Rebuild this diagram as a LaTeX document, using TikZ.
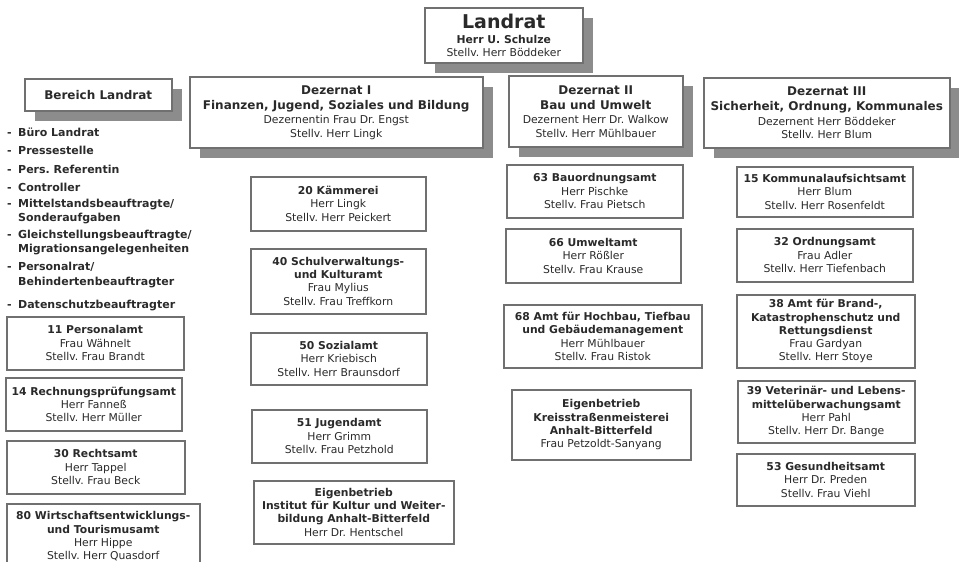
\documentclass[tikz,border=0pt]{standalone}
\usepackage{fontspec}
\setmainfont{DejaVu Sans}
\frenchspacing
\usetikzlibrary{shadows,positioning}
\definecolor{rahmen}{HTML}{707070}
\definecolor{schatten}{HTML}{8C8C8C}
\definecolor{schrift}{HTML}{2A2A2A}
\newcommand{\titel}{\fontsize{12}{14.5}\selectfont\bfseries}

\begin{document}
\begin{tikzpicture}[x=1pt,y=-1pt,
	amt/.style={draw=rahmen,line width=1.5pt,fill=white,anchor=north west,align=center,
		inner sep=0pt,text=schrift,font=\fontsize{10.8}{13.3}\selectfont},
	dez/.style={amt,font=\fontsize{10.8}{13.5}\selectfont,
		drop shadow={shadow xshift=10pt,shadow yshift=-10pt,fill=schatten,opacity=1}},
	item/.style={anchor=north west,align=left,inner sep=0pt,text=schrift,
		font=\fontsize{11}{14}\selectfont\bfseries}]
	
	\useasboundingbox (0,0) rectangle (959,562);
	
	\node[dez,minimum width=158pt,minimum height=55pt] (landrat) at (424,7)
	{{\fontsize{19}{22}\selectfont\bfseries Landrat}\\[2pt]\textbf{Herr U. Schulze}\\[-1pt]Stellv. Herr Böddeker};
	\node[dez,minimum width=147pt,minimum height=32pt] (bereich) at (24,78) {\titel Bereich Landrat};
	\node[dez,minimum width=293pt,minimum height=71pt] (dez1) at (189,76)
	{{\titel Dezernat I}\\[1.5pt]{\titel Finanzen, Jugend, Soziales und Bildung}\\[1pt]Dezernentin Frau Dr. Engst\\Stellv. Herr Lingk};
	\node[dez,minimum width=174pt,minimum height=71pt] (dez2) at (508,75)
	{{\titel Dezernat II}\\[1.5pt]{\titel Bau und Umwelt}\\[1pt]Dezernent Herr Dr. Walkow\\Stellv. Herr Mühlbauer};
	\node[dez,minimum width=246pt,minimum height=70pt] (dez3) at (703,77)
	{{\titel Dezernat III}\\[1.5pt]{\titel Sicherheit, Ordnung, Kommunales}\\[1pt]Dezernent Herr Böddeker\\Stellv. Herr Blum};
	
	\node[item] (buero) at (7,127.5) {\makebox[11pt][l]{-}Büro Landrat};
	\node[item] (presse) at (7,145.5) {\makebox[11pt][l]{-}Pressestelle};
	\node[item] (referentin) at (7,165) {\makebox[11pt][l]{-}Pers. Referentin};
	\node[item] (controller) at (7,182.5) {\makebox[11pt][l]{-}Controller};
	\node[item] (mittelstand) at (7,199) {\makebox[11pt][l]{-}Mittelstandsbeauftragte/\\\hspace*{11pt}Sonderaufgaben};
	\node[item] (gleichst) at (7,229.5) {\makebox[11pt][l]{-}Gleichstellungsbeauftragte/\\\hspace*{11pt}Migrationsangelegenheiten};
	\node[item] (personalrat) at (7,261.5) {\makebox[11pt][l]{-}Personalrat/\\[1pt]\hspace*{11pt}Behindertenbeauftragter};
	\node[item] (datenschutz) at (7,299.5) {\makebox[11pt][l]{-}Datenschutzbeauftragter};
	
	\node[amt,minimum width=177pt,minimum height=53pt] (a11) at (6,316)
	{\textbf{11 Personalamt}\\Frau Wähnelt\\Stellv. Frau Brandt};
	\node[amt,minimum width=176pt,minimum height=53pt] (a14) at (5,377)
	{\textbf{14 Rechnungsprüfungsamt}\\Herr Fanneß\\Stellv. Herr Müller};
	\node[amt,minimum width=178pt,minimum height=53pt] (a30) at (6,440)
	{\textbf{30 Rechtsamt}\\Herr Tappel\\Stellv. Frau Beck};
	\node[amt,minimum width=193pt,minimum height=65pt] (a80) at (6,503)
	{\textbf{80 Wirtschaftsentwicklungs-}\\\textbf{und Tourismusamt}\\Herr Hippe\\Stellv. Herr Quasdorf};
	
	\node[amt,minimum width=175pt,minimum height=54pt] (a20) at (250,176)
	{\textbf{20 Kämmerei}\\Herr Lingk\\Stellv. Herr Peickert};
	\node[amt,minimum width=175pt,minimum height=65pt] (a40) at (250,248)
	{\textbf{40 Schulverwaltungs-}\\\textbf{und Kulturamt}\\Frau Mylius\\Stellv. Frau Treffkorn};
	\node[amt,minimum width=176pt,minimum height=52pt] (a50) at (250,332)
	{\textbf{50 Sozialamt}\\Herr Kriebisch\\Stellv. Herr Braunsdorf};
	\node[amt,minimum width=175pt,minimum height=53pt] (a51) at (251,409)
	{\textbf{51 Jugendamt}\\Herr Grimm\\Stellv. Frau Petzhold};
	\node[amt,minimum width=200pt,minimum height=63pt] (eigen1) at (253,480)
	{\textbf{Eigenbetrieb}\\\textbf{Institut für Kultur und Weiter-}\\\textbf{bildung Anhalt-Bitterfeld}\\Herr Dr. Hentschel};
	
	\node[amt,minimum width=176pt,minimum height=53pt] (a63) at (506,164)
	{\textbf{63 Bauordnungsamt}\\Herr Pischke\\Stellv. Frau Pietsch};
	\node[amt,minimum width=175pt,minimum height=54pt] (a66) at (505,228)
	{\textbf{66 Umweltamt}\\Herr Rößler\\Stellv. Frau Krause};
	\node[amt,minimum width=198pt,minimum height=63pt] (a68) at (503,304)
	{\textbf{68 Amt für Hochbau, Tiefbau}\\\textbf{und Gebäudemanagement}\\Herr Mühlbauer\\Stellv. Frau Ristok};
	\node[amt,minimum width=179pt,minimum height=70pt] (eigen2) at (511,389)
	{\textbf{Eigenbetrieb}\\\textbf{Kreisstraßenmeisterei}\\\textbf{Anhalt-Bitterfeld}\\Frau Petzoldt-Sanyang};
	
	\node[amt,minimum width=176pt,minimum height=50pt] (a15) at (736,166)
	{\textbf{15 Kommunalaufsichtsamt}\\Herr Blum\\Stellv. Herr Rosenfeldt};
	\node[amt,minimum width=176pt,minimum height=53pt] (a32) at (736,228)
	{\textbf{32 Ordnungsamt}\\Frau Adler\\Stellv. Herr Tiefenbach};
	\node[amt,minimum width=178pt,minimum height=73pt] (a38) at (736,294)
	{\textbf{38 Amt für Brand-,}\\\textbf{Katastrophenschutz und}\\\textbf{Rettungsdienst}\\Frau Gardyan\\Stellv. Herr Stoye};
	\node[amt,minimum width=177pt,minimum height=62pt] (a39) at (737,380)
	{\textbf{39 Veterinär- und Lebens-}\\\textbf{mittelüberwachungsamt}\\Herr Pahl\\Stellv. Herr Dr. Bange};
	\node[amt,minimum width=178pt,minimum height=52pt] (a53) at (736,453)
	{\textbf{53 Gesundheitsamt}\\Herr Dr. Preden\\Stellv. Frau Viehl};
\end{tikzpicture}
\end{document}
